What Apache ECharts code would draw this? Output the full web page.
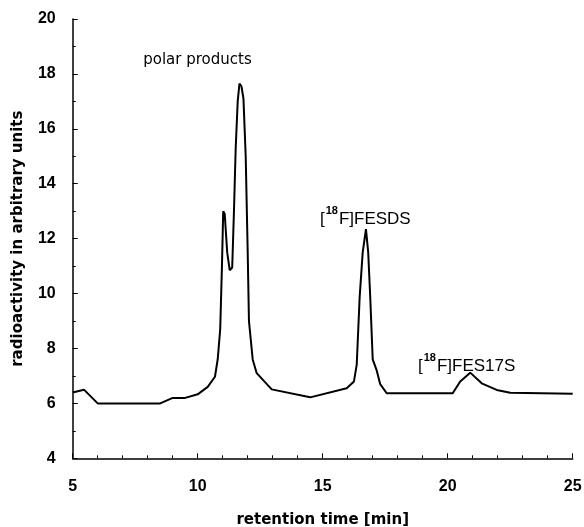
<!DOCTYPE html>
<html>
<head>
<meta charset="utf-8">
<script src="https://cdn.jsdelivr.net/npm/echarts@6/dist/echarts.min.js"></script>
<style>
html,body{margin:0;padding:0;background:#fff;}
#c{width:584px;height:527px;}
</style>
</head>
<body>
<div id="c"></div>
<script>
// retention time [min]
var timeMin = [5.0,5.45,6.0,8.5,9.0,9.5,10.0,10.4,10.69,10.8,10.9,10.97,11.02,11.08,11.18,11.28,11.38,11.45,11.52,11.6,11.67,11.75,11.83,11.92,12.0,12.05,12.2,12.36,12.96,14.5,15.96,16.25,16.36,16.48,16.6,16.73,16.82,16.9,17.0,17.16,17.3,17.56,20.2,20.5,20.9,21.36,21.96,22.5,25.0];
// radioactivity in arbitrary units
var activity = [6.4,6.5,6.0,6.0,6.2,6.2,6.33,6.6,6.97,7.6,8.7,11.0,13.0,12.9,11.5,10.85,10.95,13.0,15.3,17.0,17.65,17.55,17.1,15.0,11.5,9.0,7.6,7.1,6.51,6.22,6.55,6.8,7.4,9.9,11.5,12.35,11.5,9.9,7.6,7.2,6.7,6.37,6.37,6.8,7.12,6.73,6.49,6.39,6.35];

var xTicks = [5,10,15,20,25];
var yTicks = [4,6,8,10,12,14,16,18,20];

var labelNames = ['polar products', '[18F]FESDS', '[18F]FES17S'];
var labelAt = [[7.82, 18.45], [14.89, 12.8], [18.81, 7.45]];

var chart = echarts.init(document.getElementById('c'), null, {renderer:'canvas'});
var pts = timeMin.map(function(t,i){return [t, activity[i]];});

var tickFont = {color:'#000', fontFamily:'Liberation Sans, Arial, sans-serif', fontWeight:'bold', fontSize:16};

chart.setOption({
  animation:false,
  backgroundColor:'#fff',
  grid:{left:72.7, right:11.3, top:19, bottom:68.7, containLabel:false, outerBoundsMode:'none'},
  xAxis:{
    type:'value', min:xTicks[0], max:xTicks[xTicks.length-1], interval:5,
    name:'retention time [min]', nameLocation:'middle', nameGap:54,
    nameTextStyle:{color:'#000', fontFamily:'DejaVu Sans, sans-serif', fontWeight:'bold', fontSize:15},
    axisLine:{show:true, onZero:false, lineStyle:{color:'#000', width:1.5}},
    axisTick:{show:true, inside:true, length:5, lineStyle:{color:'#000', width:1}},
    minorTick:{show:true, splitNumber:5, length:3, lineStyle:{color:'#000', width:1}},
    axisLabel:Object.assign({margin:20}, tickFont),
    splitLine:{show:false}, minorSplitLine:{show:false}
  },
  yAxis:{
    type:'value', min:yTicks[0], max:yTicks[yTicks.length-1], interval:2,
    name:'radioactivity in arbitrary units', nameLocation:'middle', nameGap:47,
    nameTextStyle:{color:'#000', fontFamily:'DejaVu Sans, sans-serif', fontWeight:'bold', fontSize:15},
    axisLine:{show:true, onZero:false, lineStyle:{color:'#000', width:1.5}},
    axisTick:{show:true, inside:true, length:5, lineStyle:{color:'#000', width:1}},
    minorTick:{show:true, splitNumber:2, length:3, lineStyle:{color:'#000', width:1}},
    axisLabel:Object.assign({margin:17}, tickFont),
    splitLine:{show:false}, minorSplitLine:{show:false}
  },
  series:[{
    type:'line', data:pts, showSymbol:false, symbol:'none', smooth:false,
    lineStyle:{color:'#000', width:2}, itemStyle:{color:'#000'}
  }]
});

function richLabel(s){
  var m = s.match(/^\[(\d+)(.*)$/);
  if(!m) return s;
  return '{a|[}{sup|' + m[1] + '}{a|' + m[2] + '}';
}

var graphics = labelNames.map(function(name, i){
  var p = chart.convertToPixel({gridIndex:0}, labelAt[i]);
  var isIso = name.charAt(0) === '[';
  return {
    type:'text', left:p[0], top:p[1] - (isIso ? 11 : 9), silent:true,
    style:{
      text: richLabel(name),
      fill:'#000',
      font: isIso ? '17px "Liberation Sans", Arial, sans-serif' : '15px "DejaVu Sans", sans-serif',
      rich:{
        a:{fontSize:17, fontFamily:'Liberation Sans, Arial, sans-serif', fill:'#000', verticalAlign:'bottom', lineHeight:22},
        sup:{fontSize:11, fontWeight:'bold', fontFamily:'Liberation Sans, Arial, sans-serif', fill:'#000', verticalAlign:'top', lineHeight:22, padding:[0,1,0,1]}
      }
    }
  };
});
chart.setOption({graphic:graphics});
</script>
</body>
</html>
